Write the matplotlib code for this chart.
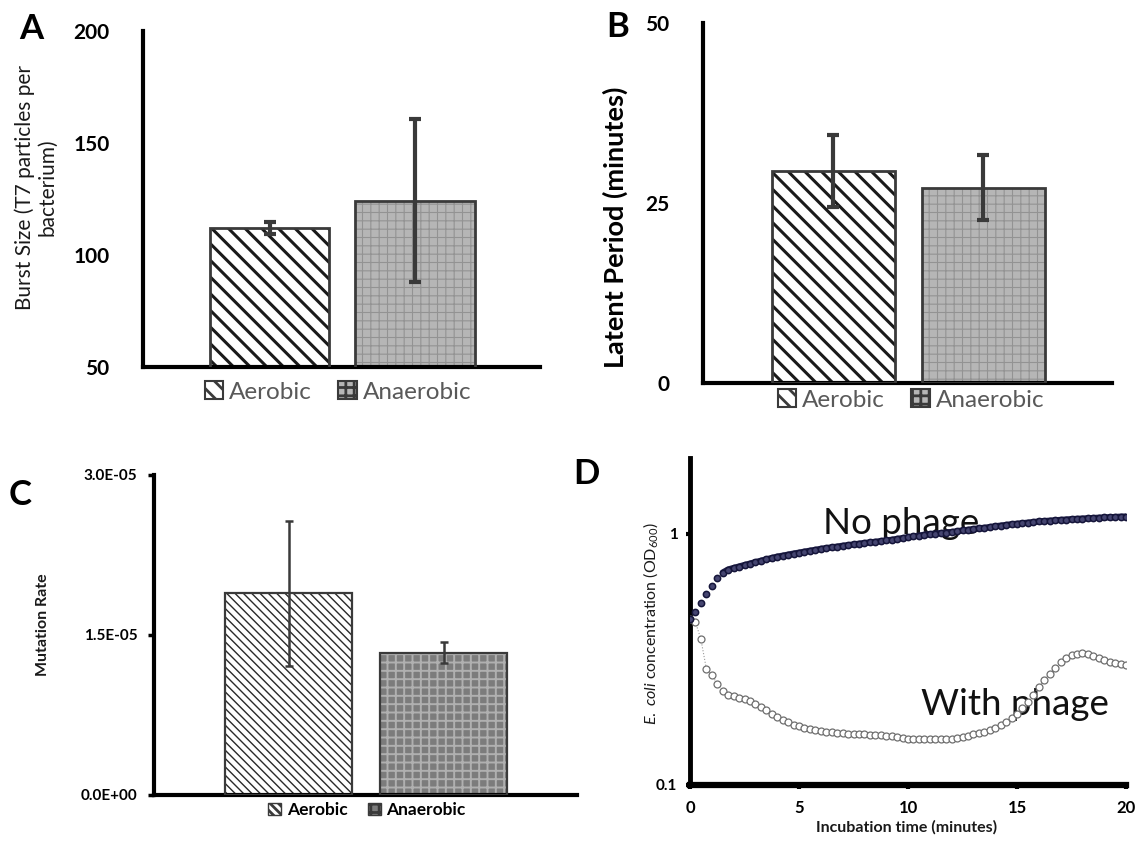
import numpy as np
import matplotlib
matplotlib.use("Agg")
import matplotlib.pyplot as plt
from matplotlib.patches import Patch
from matplotlib.ticker import NullLocator

W, H = 1137, 841

plt.rcParams['font.family'] = ['Lato', 'DejaVu Sans']
plt.rcParams['mathtext.fontset'] = 'custom'
plt.rcParams['mathtext.rm'] = 'Lato'
plt.rcParams['mathtext.it'] = 'Lato:italic'
plt.rcParams['mathtext.bf'] = 'Lato:bold'
plt.rcParams['hatch.linewidth'] = 2.0

# ---- data ----
conditions = ["Aerobic", "Anaerobic"]

burst_size = [112.2, 124.2]
burst_err = [2.7, 36.4]
burst_ticks = [50, 100, 150, 200]

latent_period = [29.5, 27.1]
latent_err = [5.0, 4.5]
latent_ticks = [0, 25, 50]

mutation_rate = [1.89e-5, 1.334e-5]
mutation_err = [0.68e-5, 0.10e-5]
mutation_ticks = [0, 1.5e-5, 3.0e-5]
mutation_ticklabels = ["0.0E+00", "1.5E-05", "3.0E-05"]

time_min = np.linspace(0, 20, 81)
od_no_phage = [
    0.457, 0.49, 0.53, 0.575, 0.62, 0.665, 0.70, 0.72, 0.73, 0.74,
    0.75, 0.76, 0.77, 0.78, 0.79, 0.80, 0.81, 0.817, 0.825, 0.833,
    0.84, 0.848, 0.855, 0.862, 0.87, 0.876, 0.882, 0.888, 0.895, 0.90,
    0.906, 0.912, 0.918, 0.923, 0.928, 0.934, 0.94, 0.945, 0.953, 0.96,
    0.968, 0.975, 0.982, 0.99, 0.995, 1.0, 1.005, 1.01, 1.015, 1.022,
    1.03, 1.036, 1.043, 1.05, 1.055, 1.062, 1.07, 1.076, 1.083, 1.09,
    1.095, 1.10, 1.106, 1.112, 1.118, 1.122, 1.126, 1.13, 1.134, 1.138,
    1.142, 1.145, 1.148, 1.151, 1.154, 1.157, 1.16, 1.162, 1.165, 1.168,
    1.17,
]
od_with_phage = [
    0.457, 0.445, 0.38, 0.29, 0.275, 0.252, 0.236, 0.228, 0.225, 0.222,
    0.219, 0.215, 0.21, 0.204, 0.198, 0.192, 0.186, 0.182, 0.178, 0.174,
    0.171, 0.169, 0.167, 0.165, 0.164, 0.163, 0.162, 0.161, 0.161, 0.16,
    0.16, 0.159, 0.159, 0.158, 0.158, 0.158, 0.157, 0.156, 0.155, 0.154,
    0.153, 0.153, 0.152, 0.152, 0.152, 0.152, 0.152, 0.153, 0.153, 0.154,
    0.155, 0.157, 0.159, 0.161, 0.163, 0.166, 0.169, 0.173, 0.178, 0.185,
    0.192, 0.202, 0.214, 0.229, 0.245, 0.261, 0.277, 0.293, 0.308, 0.32,
    0.329, 0.333, 0.334, 0.332, 0.327, 0.32, 0.314, 0.309, 0.305, 0.302,
    0.301,
]

EDGE = '#3a3a3a'

# fill styles: (facecolor, hatch, hatch colour, hatch linewidth)
STYLE_AB = [('white', '\\\\', '#1a1a1a', 2.2), ('#b6b6b6', '++', '#939393', 0.8)]
STYLE_C = [('white', '\\\\\\\\', '#2a2a2a', 1.0), ('#7c7c7c', '++', '#b0b0b0', 1.4)]

fig = plt.figure(figsize=(W / 100, H / 100), dpi=100)


def add_axes_px(left, top, right, bottom):
    return fig.add_axes([left / W, 1 - bottom / H, (right - left) / W, (bottom - top) / H])


def fxy(x, y):
    return x / W, 1 - y / H


def hatched(patch, hlw):
    if hasattr(patch, 'set_hatch_linewidth'):
        patch.set_hatch_linewidth(hlw)
    return patch


def bar_panel(ax, values, errs, styles, edge_lw, err_lw, capsize, capthick):
    x = np.arange(len(values))
    for xi, v, (fc, hatch, hc, hlw) in zip(x, values, styles):
        with plt.rc_context({'hatch.linewidth': hlw}):
            bars = ax.bar(xi, v, width=0.82, color=fc, hatch=hatch,
                          edgecolor=hc, linewidth=0, zorder=2)
        for b in bars:
            hatched(b, hlw)
    ax.bar(x, values, width=0.82, facecolor='none', edgecolor=EDGE,
           linewidth=edge_lw, zorder=3)
    ax.errorbar(x, values, yerr=errs, fmt='none', ecolor=EDGE,
                elinewidth=err_lw, capsize=capsize, capthick=capthick, zorder=4)
    ax.set_xlim(-0.87, 1.86)
    ax.set_xticks([])
    for s in ('top', 'right'):
        ax.spines[s].set_visible(False)
    for s in ('left', 'bottom'):
        ax.spines[s].set_linewidth(3.0)


def legend_handles(styles, edge_lw):
    hs = []
    for fc, hatch, hc, hlw in styles:
        with plt.rc_context({'hatch.linewidth': hlw}):
            p = Patch(facecolor=fc, hatch=hatch, edgecolor=EDGE, linewidth=edge_lw)
        hs.append(hatched(p, hlw))
    return hs


def panel_letter(x, y, s):
    fig.text(*fxy(x, y), s, fontsize=25, fontweight='bold', ha='center', va='center')


# ---- A: burst size ----
axA = add_axes_px(143, 31, 540, 367)
bar_panel(axA, burst_size, burst_err, STYLE_AB, 2.0, 3.0, 4.5, 3.0)
axA.set_ylim(50, 200)
axA.set_yticks(burst_ticks, labels=[str(t) for t in burst_ticks],
               fontweight='bold', fontsize=15)
axA.tick_params(axis='y', length=0, pad=24)
axA.set_ylabel("Burst Size (T7 particles per\nbacterium)", fontsize=15, color='#1a1a1a',
               linespacing=1.15)
axA.yaxis.set_label_coords(*fxy(57, 187), transform=fig.transFigure)
fig.legend(legend_handles(STYLE_AB, 1.5), conditions, loc='center', ncol=2,
           bbox_to_anchor=fxy(338, 392), frameon=False, fontsize=17.5,
           labelcolor='#595959', handlelength=0.75, handleheight=0.75,
           handletextpad=0.25, columnspacing=1.1)
panel_letter(31, 29, "A")

# ---- B: latent period ----
axB = add_axes_px(703, 23, 1112, 383)
bar_panel(axB, latent_period, latent_err, STYLE_AB, 2.0, 3.0, 4.5, 3.0)
axB.set_ylim(0, 50)
axB.set_yticks(latent_ticks, labels=[str(t) for t in latent_ticks],
               fontweight='bold', fontsize=15)
axB.tick_params(axis='y', length=0, pad=24)
axB.set_ylabel("Latent Period (minutes)", fontsize=19.5, fontweight='bold')
axB.yaxis.set_label_coords(*fxy(628, 227), transform=fig.transFigure)
fig.legend(legend_handles(STYLE_AB, 1.5), conditions, loc='center', ncol=2,
           bbox_to_anchor=fxy(911, 400), frameon=False, fontsize=17.5,
           labelcolor='#595959', handlelength=0.75, handleheight=0.75,
           handletextpad=0.25, columnspacing=1.1)
panel_letter(618, 27, "B")

# ---- C: mutation rate ----
axC = add_axes_px(154, 475, 577, 795)
bar_panel(axC, mutation_rate, mutation_err, STYLE_C, 1.6, 1.8, 3, 1.8)
axC.set_ylim(0, 3.0e-5)
axC.set_yticks(mutation_ticks, labels=mutation_ticklabels, fontweight='bold', fontsize=11)
axC.tick_params(axis='y', length=4, width=2.5, pad=8)
axC.set_ylabel("Mutation Rate", fontsize=11.5, fontweight='bold', color='#1a1a1a')
axC.yaxis.set_label_coords(*fxy(50, 625), transform=fig.transFigure)
fig.legend(legend_handles(STYLE_C, 1.0), conditions, loc='center', ncol=2,
           bbox_to_anchor=fxy(367, 810), frameon=False,
           prop={'weight': 'bold', 'size': 12.5}, handlelength=0.75, handleheight=0.75,
           handletextpad=0.3, columnspacing=1.2)
panel_letter(20, 495, "C")

# ---- D: growth curves ----
axD = add_axes_px(690, 458, 1126, 785)
dense_np = time_min >= 1.5
axD.plot(time_min, od_with_phage, linestyle=':', linewidth=0.8, color='#9a9a9a',
         marker='o', markersize=5, markerfacecolor='white', markeredgecolor='#6e6e6e',
         markeredgewidth=0.9, zorder=3)
axD.plot(time_min[dense_np], np.asarray(od_no_phage)[dense_np], linewidth=4.5,
         color='#1e1e48', solid_capstyle='round', zorder=3)
axD.plot(time_min, od_no_phage, linestyle='none', marker='o', markersize=4.5,
         markerfacecolor='#454570', markeredgecolor='#15153a', markeredgewidth=1.1, zorder=4)
axD.set_yscale('log')
axD.set_xlim(0, 20)
axD.set_ylim(0.1, 2.0)
axD.set_yticks([0.1, 1], labels=["0.1", "1"], fontweight='bold', fontsize=11)
axD.yaxis.set_minor_locator(NullLocator())
axD.set_xticks([0, 5, 10, 15, 20], labels=["0", "5", "10", "15", "20"],
               fontweight='bold', fontsize=12)
axD.tick_params(axis='both', length=3, width=3)
axD.tick_params(axis='y', pad=6)
axD.tick_params(axis='x', pad=8)
for s in ('top', 'right'):
    axD.spines[s].set_visible(False)
axD.spines['left'].set_linewidth(3.5)
axD.spines['bottom'].set_linewidth(4.5)
axD.set_xlabel("Incubation time (minutes)", fontsize=11.5, fontweight='bold', color='#1a1a1a')
axD.xaxis.set_label_coords(*fxy(907, 820), transform=fig.transFigure)
axD.set_ylabel(r"$\it{E.\ coli}$ concentration (OD$_{600}$)", fontsize=11.5, color='#1a1a1a')
axD.yaxis.set_label_coords(*fxy(660, 624), transform=fig.transFigure)
axD.text(6.1, 1.0, "No phage", fontsize=26.5, color='#111111', va='baseline', zorder=1)
axD.text(10.6, 0.19, "With phage", fontsize=26.5, color='#111111', va='baseline', zorder=1)
panel_letter(586, 474, "D")

fig.savefig("out.png", dpi=100)
